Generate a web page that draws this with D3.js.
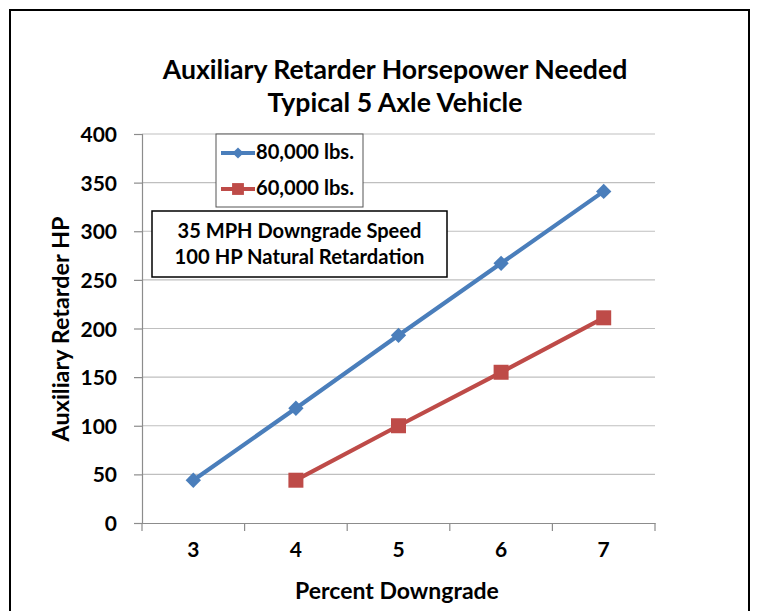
<!DOCTYPE html>
<html><head><meta charset="utf-8">
<script src="https://cdn.jsdelivr.net/npm/d3@7"></script>
<style>
html,body{margin:0;padding:0;background:#fff;}
svg text{font-family:Lato,"Open Sans",sans-serif;font-weight:bold;fill:#000;}
</style></head>
<body>
<svg id="c" width="759" height="611"></svg>
<script>
const categories = [3, 4, 5, 6, 7];
const series80 = [44, 118, 193, 267, 341];
const series60 = [null, 44, 100, 155, 211];
const seriesNames = ["80,000 lbs.", "60,000 lbs."];
const yTicks = [0, 50, 100, 150, 200, 250, 300, 350, 400];
const titleLines = ["Auxiliary Retarder Horsepower Needed", "Typical 5 Axle Vehicle"];
const noteLines = ["35 MPH Downgrade Speed", "100 HP Natural Retardation"];

const svg = d3.select("#c");
const L = 142, R = 655, T = 134, B = 523;

svg.append("rect").attr("x", 10).attr("y", 10).attr("width", 739).attr("height", 620)
  .attr("fill", "#fff").attr("stroke", "#000").attr("stroke-width", 2);

const x = d3.scaleBand().domain(categories).range([L, R]);
const y = d3.scaleLinear().domain([0, 400]).range([B, T]);

function fit(sel, w) {
  const n = sel.node(); const cur = n.getComputedTextLength();
  const fs = parseFloat(sel.attr("font-size"));
  sel.attr("font-size", fs * w / cur);
}

// gridlines
svg.append("g").selectAll("line").data(yTicks.filter(d => d > 0)).join("line")
  .attr("x1", L).attr("x2", R).attr("y1", d => y(d)).attr("y2", d => y(d))
  .attr("stroke", "#bfbfbf").attr("stroke-width", 1.2);

// y axis
const ya = svg.append("g").attr("transform", `translate(${L},0)`)
  .call(d3.axisLeft(y).tickValues(yTicks).tickSize(8).tickPadding(17));
ya.select(".domain").attr("stroke", "#8c8c8c").attr("stroke-width", 1.2);
ya.selectAll(".tick line").attr("stroke", "#8c8c8c").attr("stroke-width", 1.2);
ya.selectAll(".tick text").attr("font-size", 21).attr("font-family", "Lato").attr("font-weight", "bold").attr("fill", "#000").attr("dy", "0.36em");

// x axis
const xa = svg.append("g").attr("transform", `translate(0,${B})`)
  .call(d3.axisBottom(x).tickSize(0).tickPadding(19));
xa.select(".domain").attr("stroke", "#8c8c8c").attr("stroke-width", 1.2);
xa.selectAll(".tick text").attr("font-size", 21).attr("font-family", "Lato").attr("font-weight", "bold").attr("fill", "#000");
const bounds = categories.map(c => x(c)).concat([R]);
svg.append("g").selectAll("line").data(bounds).join("line")
  .attr("x1", d => d).attr("x2", d => d).attr("y1", B).attr("y2", B + 8)
  .attr("stroke", "#8c8c8c").attr("stroke-width", 1.2);

const cx = c => x(c) + x.bandwidth() / 2;
const blue = "#4a7ebb", red = "#be4b48";

const line = d3.line().defined(d => d[1] != null).x(d => cx(d[0])).y(d => y(d[1]));
const d80 = categories.map((c, i) => [c, series80[i]]);
const d60 = categories.map((c, i) => [c, series60[i]]);
svg.append("path").attr("d", line(d80)).attr("fill", "none").attr("stroke", blue).attr("stroke-width", 4.2);
svg.append("path").attr("d", line(d60)).attr("fill", "none").attr("stroke", red).attr("stroke-width", 4.2);

const diamond = d3.symbol().type(d3.symbolDiamond2).size(150);
const square = d3.symbol().type(d3.symbolSquare).size(225);
svg.append("g").selectAll("path").data(d80).join("path")
  .attr("d", diamond).attr("transform", d => `translate(${cx(d[0])},${y(d[1])})`)
  .attr("fill", blue);
svg.append("g").selectAll("path").data(d60.filter(d => d[1] != null)).join("path")
  .attr("d", square).attr("transform", d => `translate(${cx(d[0])},${y(d[1])})`)
  .attr("fill", red);

// title
const tl = svg.append("g");
titleLines.forEach((t, i) => {
  tl.append("text").attr("x", 395).attr("y", 79 + i * 33).attr("text-anchor", "middle")
    .attr("font-size", 23).text(t);
});
fit(tl.select("text"), 465);
tl.selectAll("text").attr("font-size", tl.select("text").attr("font-size"));

// y axis label
const yl = svg.append("text").attr("transform", "translate(69,329) rotate(-90)").attr("text-anchor", "middle")
  .attr("font-size", 19).text("Auxiliary Retarder HP");
fit(yl, 225);

// x label
const xl = svg.append("text").attr("x", 397).attr("y", 599).attr("text-anchor", "middle")
  .attr("font-size", 20).text("Percent Downgrade");
fit(xl, 204);

// legend
const lg = svg.append("g");
lg.append("rect").attr("x", 216).attr("y", 134).attr("width", 147).attr("height", 73)
  .attr("fill", "#fff").attr("stroke", "#555").attr("stroke-width", 1);
[[blue, 153], [red, 189]].forEach(([col, yy], i) => {
  lg.append("line").attr("x1", 221).attr("x2", 255).attr("y1", yy).attr("y2", yy)
    .attr("stroke", col).attr("stroke-width", 4);
  lg.append("path").attr("d", i === 0 ? d3.symbol().type(d3.symbolDiamond2).size(80)() : d3.symbol().type(d3.symbolSquare).size(140)())
    .attr("transform", `translate(238,${yy})`).attr("fill", col);
  const t = lg.append("text").attr("x", 256).attr("y", yy + 6).attr("font-size", 17).text(seriesNames[i]);
  fit(t, 98);
});

// note box
const nb = svg.append("g");
nb.append("rect").attr("x", 152).attr("y", 211).attr("width", 295).attr("height", 66)
  .attr("fill", "#fff").attr("stroke", "#000").attr("stroke-width", 1.5);
noteLines.forEach((t, i) => {
  const s = nb.append("text").attr("x", 299.5).attr("y", 238 + i * 26).attr("text-anchor", "middle")
    .attr("font-size", 17).text(t);
  fit(s, i === 0 ? 244 : 250);
});
</script>
</body></html>
